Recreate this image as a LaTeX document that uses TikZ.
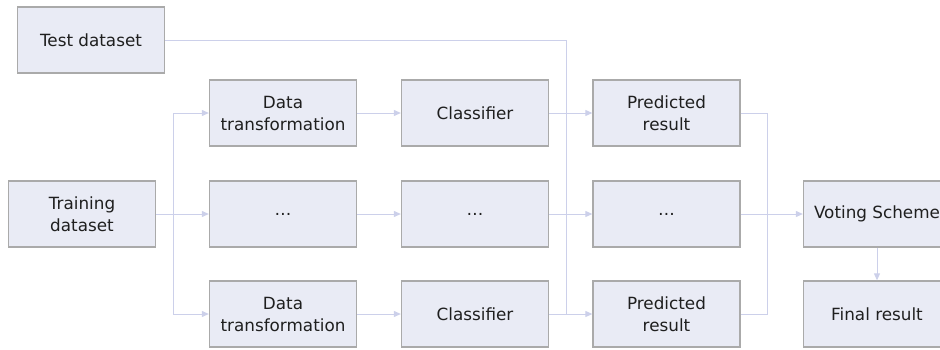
\documentclass[tikz,border=0pt]{standalone}
\usepackage{fontspec}
\setmainfont{DejaVu Sans}
\usetikzlibrary{arrows.meta}
\definecolor{boxfill}{HTML}{E9EBF5}
\definecolor{boxline}{HTML}{AAAAAA}
\definecolor{wire}{HTML}{CCD0EA}
\begin{document}
\begin{tikzpicture}[x=1pt,y=-1pt,
  stage/.style={draw=boxline,line width=1.3pt,fill=boxfill,minimum width=147pt,minimum height=66pt,
    inner sep=2pt,align=center,font=\fontsize{16.8}{22}\selectfont,text=black!88},
  wireline/.style={draw=wire,line width=1pt},
  flow/.style={wireline,-{Triangle[length=7pt,width=6pt]}}]
\useasboundingbox (0,0) rectangle (940,349);
\clip (0,0) rectangle (940,349);
% boxes
\node[stage] (test) at (91,40) {Test dataset};
\node[stage] (train) at (82,214) {Training\\dataset};
\node[stage] (dt1) at (283,113) {Data\\transformation};
\node[stage] (dt2) at (283,214) {\dots};
\node[stage] (dt3) at (283,314) {Data\\transformation};
\node[stage] (cl1) at (475,113) {Classifier};
\node[stage] (cl2) at (475,214) {\dots};
\node[stage] (cl3) at (475,314) {Classifier};
\node[stage] (pr1) at (666.5,113) {Predicted\\result};
\node[stage] (pr2) at (666.5,214) {\dots};
\node[stage] (pr3) at (666.5,314) {Predicted\\result};
\node[stage] (vote) at (877,214) {Voting Scheme};
\node[stage] (final) at (877,314) {Final result};
% junction points
\coordinate (tj) at (566,314);
\coordinate (s1) at (173,113);
\coordinate (s3) at (173,314);
\coordinate (m1) at (767,113);
\coordinate (m3) at (767,314);
% test data feeds the predictors
\draw[wireline] (test.east) -| (tj);
% training data fans out
\draw[flow] (train.east) -- (dt2.west);
\draw[wireline] (s1) -- (s3);
\draw[flow] (s1) -- (dt1.west);
\draw[flow] (s3) -- (dt3.west);
% each pipeline row
\foreach \r in {1,2,3}{
  \draw[flow] (dt\r.east) -- (cl\r.west);
  \draw[flow] (cl\r.east) -- (pr\r.west);
}
% results merged into voting
\draw[wireline] (pr1.east) -- (m1) -- (m3) -- (pr3.east);
\draw[flow] (pr2.east) -- (vote.west);
\draw[flow] (vote.south) -- (final.north);
\end{tikzpicture}
\end{document}
